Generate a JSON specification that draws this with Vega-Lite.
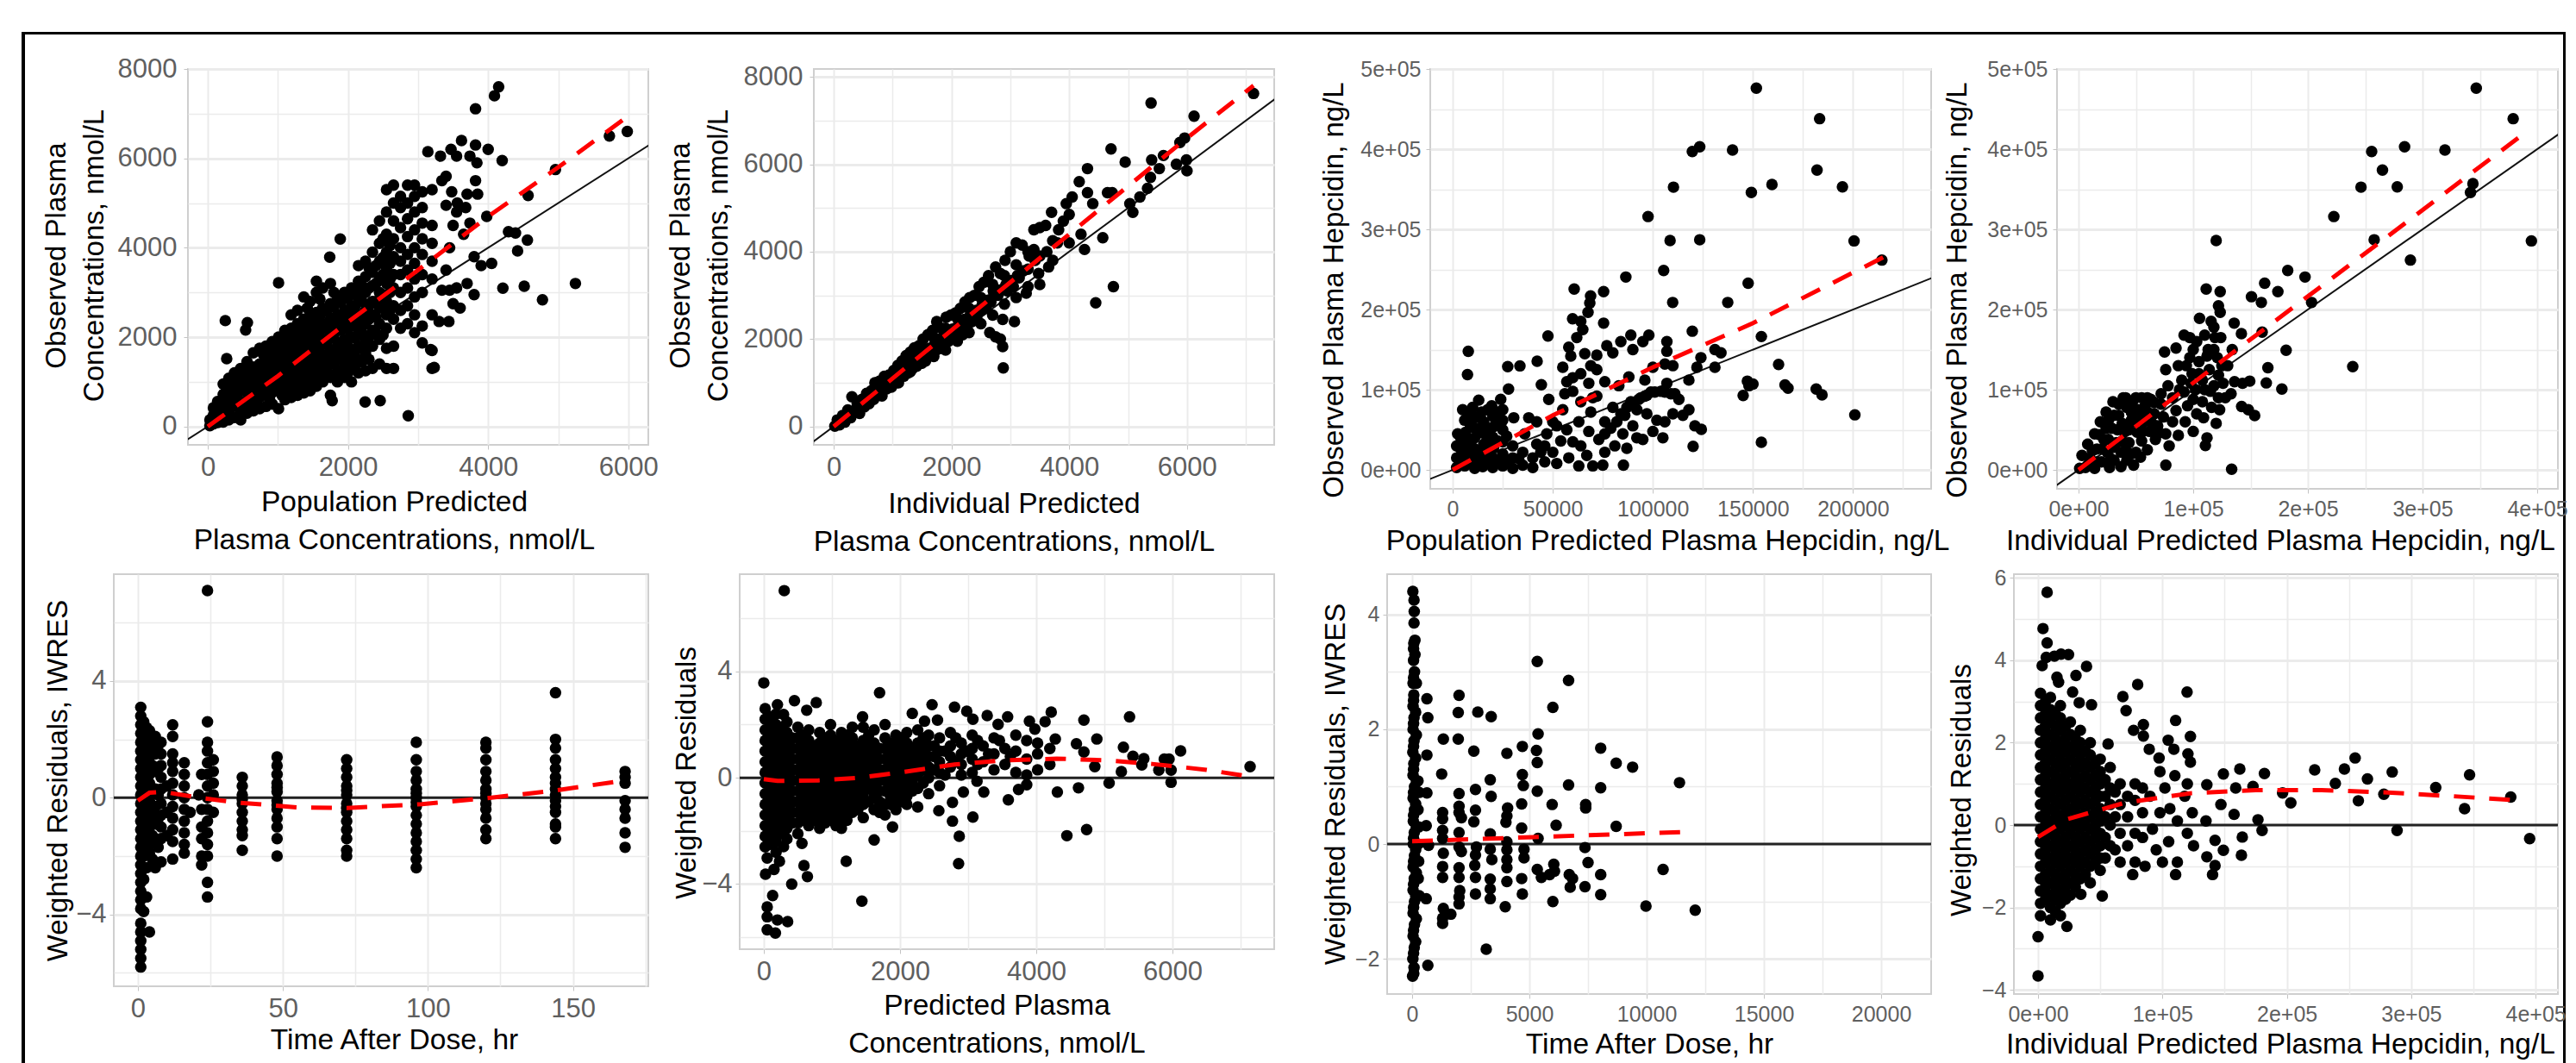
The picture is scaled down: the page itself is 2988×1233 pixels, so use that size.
{"$schema":"https://vega.github.io/schema/vega-lite/v6.json","padding":{"left":25,"top":37,"right":0,"bottom":0},"autosize":{"type":"pad"},"background":"#fff","bounds":"flush","spacing":0,"config":{"view":{"stroke":null},"axis":{"domain":false,"gridColor":"#ebebeb","tickColor":"#c4c4c4","tickSize":5,"labelColor":"#5f5f5f","labelFont":"Liberation Sans","titleFont":"Liberation Sans","titleColor":"#000","titleFontWeight":"normal","labelOverlap":false,"labelBound":false,"labelFlush":false,"titleLineHeight":44,"titleAlign":"center","titleBaseline":"middle"}},
"datasets":{
"p1":[{"x":30,"y":20},{"x":30,"y":150},{"x":80,"y":60},{"x":80,"y":250},{"x":80,"y":420},{"x":140,"y":90},{"x":140,"y":330},{"x":140,"y":560},{"x":220,"y":100},{"x":220,"y":260},{"x":220,"y":480},{"x":220,"y":720},{"x":220,"y":950},{"x":300,"y":150},{"x":300,"y":380},{"x":300,"y":600},{"x":300,"y":830},{"x":300,"y":1080},{"x":380,"y":200},{"x":380,"y":450},{"x":380,"y":700},{"x":380,"y":950},{"x":380,"y":1200},{"x":470,"y":150},{"x":470,"y":320},{"x":470,"y":560},{"x":470,"y":800},{"x":470,"y":1050},{"x":470,"y":1300},{"x":560,"y":300},{"x":560,"y":520},{"x":560,"y":760},{"x":560,"y":1000},{"x":560,"y":1250},{"x":560,"y":1450},{"x":650,"y":350},{"x":650,"y":600},{"x":650,"y":850},{"x":650,"y":1100},{"x":650,"y":1330},{"x":650,"y":1650},{"x":740,"y":400},{"x":740,"y":650},{"x":740,"y":900},{"x":740,"y":1150},{"x":740,"y":1400},{"x":740,"y":1750},{"x":830,"y":450},{"x":830,"y":720},{"x":830,"y":950},{"x":830,"y":1200},{"x":830,"y":1500},{"x":830,"y":1800},{"x":920,"y":500},{"x":920,"y":760},{"x":920,"y":1020},{"x":920,"y":1280},{"x":920,"y":1560},{"x":920,"y":1900},{"x":1010,"y":400},{"x":1010,"y":800},{"x":1010,"y":1050},{"x":1010,"y":1350},{"x":1010,"y":1650},{"x":1010,"y":2000},{"x":1100,"y":600},{"x":1100,"y":880},{"x":1100,"y":1150},{"x":1100,"y":1450},{"x":1100,"y":1750},{"x":1100,"y":2150},{"x":1190,"y":650},{"x":1190,"y":950},{"x":1190,"y":1230},{"x":1190,"y":1550},{"x":1190,"y":1850},{"x":1190,"y":2200},{"x":1190,"y":2500},{"x":1280,"y":700},{"x":1280,"y":1000},{"x":1280,"y":1300},{"x":1280,"y":1600},{"x":1280,"y":1950},{"x":1280,"y":2300},{"x":1280,"y":2600},{"x":1370,"y":750},{"x":1370,"y":1050},{"x":1370,"y":1400},{"x":1370,"y":1700},{"x":1370,"y":2050},{"x":1370,"y":2400},{"x":1370,"y":2900},{"x":1460,"y":800},{"x":1460,"y":1100},{"x":1460,"y":1450},{"x":1460,"y":1800},{"x":1460,"y":2100},{"x":1460,"y":2500},{"x":1460,"y":2800},{"x":1550,"y":900},{"x":1550,"y":1200},{"x":1550,"y":1500},{"x":1550,"y":1850},{"x":1550,"y":2200},{"x":1550,"y":2550},{"x":1550,"y":3000},{"x":1550,"y":3250},{"x":1640,"y":1000},{"x":1640,"y":1300},{"x":1640,"y":1600},{"x":1640,"y":1950},{"x":1640,"y":2300},{"x":1640,"y":2650},{"x":1640,"y":3100},{"x":1750,"y":700},{"x":1750,"y":1100},{"x":1750,"y":1400},{"x":1750,"y":1700},{"x":1750,"y":2050},{"x":1750,"y":2400},{"x":1750,"y":2750},{"x":1750,"y":3200},{"x":1850,"y":1000},{"x":1850,"y":1250},{"x":1850,"y":1550},{"x":1850,"y":1800},{"x":1850,"y":2150},{"x":1850,"y":2500},{"x":1850,"y":2850},{"x":1950,"y":1100},{"x":1950,"y":1400},{"x":1950,"y":1700},{"x":1950,"y":1950},{"x":1950,"y":2300},{"x":1950,"y":2600},{"x":1950,"y":3000},{"x":2050,"y":1000},{"x":2050,"y":1300},{"x":2050,"y":1600},{"x":2050,"y":2000},{"x":2050,"y":2400},{"x":2050,"y":2700},{"x":2050,"y":3100},{"x":2150,"y":1200},{"x":2150,"y":1500},{"x":2150,"y":1800},{"x":2150,"y":2150},{"x":2150,"y":2500},{"x":2150,"y":2850},{"x":2150,"y":3250},{"x":2150,"y":3600},{"x":2250,"y":1250},{"x":2250,"y":1650},{"x":2250,"y":1950},{"x":2250,"y":2300},{"x":2250,"y":2600},{"x":2250,"y":3000},{"x":2250,"y":3350},{"x":2250,"y":3700},{"x":2350,"y":1300},{"x":2350,"y":1800},{"x":2350,"y":2150},{"x":2350,"y":2500},{"x":2350,"y":2800},{"x":2350,"y":3150},{"x":2350,"y":3450},{"x":2350,"y":3900},{"x":2350,"y":4400},{"x":2450,"y":1400},{"x":2450,"y":1950},{"x":2450,"y":2300},{"x":2450,"y":2650},{"x":2450,"y":3000},{"x":2450,"y":3300},{"x":2450,"y":3700},{"x":2450,"y":4100},{"x":2450,"y":4600},{"x":2550,"y":1300},{"x":2550,"y":1750},{"x":2550,"y":2200},{"x":2550,"y":2500},{"x":2550,"y":2800},{"x":2550,"y":3200},{"x":2550,"y":3550},{"x":2550,"y":3900},{"x":2550,"y":4300},{"x":2550,"y":4800},{"x":2550,"y":5300},{"x":2650,"y":1300},{"x":2650,"y":1800},{"x":2650,"y":2400},{"x":2650,"y":2700},{"x":2650,"y":3100},{"x":2650,"y":3400},{"x":2650,"y":3800},{"x":2650,"y":4200},{"x":2650,"y":4600},{"x":2650,"y":5000},{"x":2650,"y":5400},{"x":2750,"y":2200},{"x":2750,"y":2600},{"x":2750,"y":3000},{"x":2750,"y":3400},{"x":2750,"y":3700},{"x":2750,"y":4000},{"x":2750,"y":4450},{"x":2750,"y":4900},{"x":2750,"y":5150},{"x":2850,"y":2300},{"x":2850,"y":2700},{"x":2850,"y":3100},{"x":2850,"y":3500},{"x":2850,"y":3850},{"x":2850,"y":4250},{"x":2850,"y":4650},{"x":2850,"y":5000},{"x":2850,"y":5400},{"x":2950,"y":2100},{"x":2950,"y":2500},{"x":2950,"y":2900},{"x":2950,"y":3300},{"x":2950,"y":3650},{"x":2950,"y":4000},{"x":2950,"y":4400},{"x":2950,"y":4800},{"x":2950,"y":5150},{"x":2950,"y":5400},{"x":3060,"y":1870},{"x":3060,"y":2250},{"x":3060,"y":3000},{"x":3060,"y":3400},{"x":3060,"y":3850},{"x":3060,"y":4200},{"x":3060,"y":4550},{"x":3060,"y":4900},{"x":3060,"y":5250},{"x":3140,"y":6150},{"x":3200,"y":1300},{"x":3200,"y":1700},{"x":3200,"y":2500},{"x":3200,"y":3300},{"x":3200,"y":3700},{"x":3200,"y":4100},{"x":3200,"y":4500},{"x":3200,"y":5300},{"x":3300,"y":2350},{"x":3320,"y":6050},{"x":3340,"y":5500},{"x":3400,"y":5600},{"x":3340,"y":3050},{"x":3400,"y":3500},{"x":3440,"y":2350},{"x":3450,"y":4000},{"x":3480,"y":5250},{"x":3470,"y":6200},{"x":3550,"y":6050},{"x":3620,"y":6400},{"x":3740,"y":6050},{"x":3820,"y":6300},{"x":3840,"y":5900},{"x":4000,"y":6200},{"x":4200,"y":5950},{"x":3560,"y":5000},{"x":3700,"y":5200},{"x":3850,"y":5200},{"x":3820,"y":5500},{"x":3400,"y":4950},{"x":3550,"y":4800},{"x":3680,"y":4900},{"x":3740,"y":4550},{"x":3980,"y":4700},{"x":3500,"y":4500},{"x":3650,"y":4300},{"x":3450,"y":3050},{"x":3800,"y":3800},{"x":3900,"y":3600},{"x":4050,"y":3650},{"x":3700,"y":3200},{"x":3800,"y":2950},{"x":3550,"y":3100},{"x":3600,"y":2650},{"x":3500,"y":2750},{"x":4150,"y":7600},{"x":4090,"y":7400},{"x":3820,"y":7110},{"x":5985,"y":6600},{"x":5730,"y":6500},{"x":4960,"y":5750},{"x":4570,"y":5170},{"x":5245,"y":3200},{"x":4775,"y":2835},{"x":4515,"y":3140},{"x":4210,"y":3095},{"x":2860,"y":240},{"x":2460,"y":580},{"x":2245,"y":550},{"x":1775,"y":580},{"x":1010,"y":3215},{"x":250,"y":2370},{"x":565,"y":2325},{"x":540,"y":2160},{"x":270,"y":1520},{"x":1890,"y":4195},{"x":1740,"y":3790},{"x":4560,"y":4170},{"x":4420,"y":3930},{"x":4390,"y":4330},{"x":4290,"y":4360},{"x":3180,"y":1720},{"x":3230,"y":1320},{"x":430,"y":600},{"x":430,"y":850},{"x":520,"y":430},{"x":520,"y":900},{"x":520,"y":1150},{"x":610,"y":680},{"x":610,"y":1200},{"x":700,"y":500},{"x":700,"y":980},{"x":700,"y":1250},{"x":790,"y":800},{"x":790,"y":1080},{"x":790,"y":1350},{"x":790,"y":1620},{"x":880,"y":620},{"x":880,"y":1130},{"x":880,"y":1420},{"x":880,"y":1700},{"x":970,"y":900},{"x":970,"y":1200},{"x":970,"y":1480},{"x":970,"y":1780},{"x":1060,"y":700},{"x":1060,"y":1000},{"x":1060,"y":1280},{"x":1060,"y":1560},{"x":1060,"y":1880},{"x":1150,"y":780},{"x":1150,"y":1060},{"x":1150,"y":1350},{"x":1150,"y":1650},{"x":1150,"y":2000},{"x":1240,"y":850},{"x":1240,"y":1140},{"x":1240,"y":1440},{"x":1240,"y":1760},{"x":1240,"y":2100},{"x":1330,"y":900},{"x":1330,"y":1180},{"x":1330,"y":1520},{"x":1330,"y":1850},{"x":1330,"y":2200},{"x":1420,"y":950},{"x":1420,"y":1260},{"x":1420,"y":1600},{"x":1420,"y":1950},{"x":1420,"y":2280},{"x":1420,"y":2650},{"x":1510,"y":1050},{"x":1510,"y":1350},{"x":1510,"y":1680},{"x":1510,"y":2030},{"x":1510,"y":2380},{"x":1600,"y":1120},{"x":1600,"y":1450},{"x":1600,"y":1780},{"x":1600,"y":2120},{"x":1600,"y":2480},{"x":1600,"y":2850},{"x":1700,"y":1250},{"x":1700,"y":1550},{"x":1700,"y":1870},{"x":1700,"y":2220},{"x":1700,"y":2580},{"x":1800,"y":1130},{"x":1800,"y":1420},{"x":1800,"y":1680},{"x":1800,"y":1980},{"x":1800,"y":2320},{"x":1800,"y":2680},{"x":1800,"y":3000},{"x":1900,"y":1250},{"x":1900,"y":1560},{"x":1900,"y":1850},{"x":1900,"y":2150},{"x":1900,"y":2450},{"x":1900,"y":2780},{"x":2000,"y":1200},{"x":2000,"y":1480},{"x":2000,"y":1800},{"x":2000,"y":2180},{"x":2000,"y":2550},{"x":2000,"y":2880},{"x":2100,"y":1380},{"x":2100,"y":1680},{"x":2100,"y":1980},{"x":2100,"y":2320},{"x":2100,"y":2680},{"x":2100,"y":3000},{"x":2200,"y":1450},{"x":2200,"y":1780},{"x":2200,"y":2100},{"x":2200,"y":2450},{"x":2200,"y":2800},{"x":2200,"y":3150},{"x":2300,"y":1500},{"x":2300,"y":2000},{"x":2300,"y":2400},{"x":2300,"y":2700},{"x":2300,"y":3100},{"x":2300,"y":3550},{"x":2400,"y":2100},{"x":2400,"y":2450},{"x":2400,"y":2800},{"x":2400,"y":3200},{"x":2400,"y":3600},{"x":2500,"y":2050},{"x":2500,"y":2650},{"x":2500,"y":2950},{"x":2500,"y":3400},{"x":2500,"y":3780},{"x":2500,"y":4200},{"x":2600,"y":2600},{"x":2600,"y":3000},{"x":2600,"y":3300},{"x":2600,"y":3650},{"x":2600,"y":4050}],
"p2":[{"x":20,"y":10},{"x":60,"y":150},{"x":100,"y":40},{"x":150,"y":250},{"x":190,"y":100},{"x":240,"y":380},{"x":290,"y":200},{"x":310,"y":680},{"x":340,"y":330},{"x":400,"y":520},{"x":440,"y":300},{"x":480,"y":620},{"x":520,"y":450},{"x":560,"y":760},{"x":600,"y":520},{"x":640,"y":820},{"x":680,"y":620},{"x":700,"y":1000},{"x":740,"y":720},{"x":780,"y":1040},{"x":820,"y":700},{"x":860,"y":1150},{"x":900,"y":860},{"x":940,"y":1180},{"x":980,"y":900},{"x":1020,"y":1280},{"x":1060,"y":1000},{"x":1090,"y":1400},{"x":1120,"y":1110},{"x":1160,"y":1500},{"x":1190,"y":1150},{"x":1230,"y":1620},{"x":1260,"y":1220},{"x":1300,"y":1700},{"x":1330,"y":1310},{"x":1370,"y":1800},{"x":1410,"y":1380},{"x":1450,"y":1850},{"x":1480,"y":1450},{"x":1520,"y":2000},{"x":1560,"y":1500},{"x":1600,"y":2100},{"x":1640,"y":1620},{"x":1680,"y":2200},{"x":1710,"y":1700},{"x":1750,"y":2400},{"x":1790,"y":1780},{"x":1830,"y":2250},{"x":1870,"y":1850},{"x":1910,"y":2500},{"x":1950,"y":1950},{"x":1990,"y":2550},{"x":2030,"y":2050},{"x":2070,"y":2600},{"x":2110,"y":2180},{"x":2150,"y":2700},{"x":2190,"y":2100},{"x":2230,"y":2850},{"x":2270,"y":2300},{"x":2310,"y":2950},{"x":2350,"y":2400},{"x":2390,"y":3000},{"x":2430,"y":2500},{"x":2470,"y":3200},{"x":2510,"y":2650},{"x":2550,"y":3300},{"x":2590,"y":2700},{"x":2630,"y":3450},{"x":2670,"y":2850},{"x":2710,"y":3100},{"x":2750,"y":3650},{"x":2790,"y":3000},{"x":2830,"y":3500},{"x":2870,"y":2450},{"x":2830,"y":2000},{"x":2870,"y":1830},{"x":2880,"y":1340},{"x":2650,"y":2150},{"x":2750,"y":2050},{"x":3070,"y":2400},{"x":2910,"y":3800},{"x":2950,"y":3100},{"x":3000,"y":4000},{"x":3050,"y":3200},{"x":3100,"y":4200},{"x":3150,"y":3400},{"x":3200,"y":4150},{"x":3270,"y":3050},{"x":3300,"y":3600},{"x":3400,"y":4050},{"x":3480,"y":3500},{"x":3500,"y":3900},{"x":3400,"y":4500},{"x":3500,"y":4550},{"x":3600,"y":4600},{"x":3650,"y":3650},{"x":3720,"y":3800},{"x":3700,"y":4900},{"x":3800,"y":4200},{"x":3900,"y":4700},{"x":4000,"y":4200},{"x":4000,"y":4850},{"x":3950,"y":5100},{"x":4050,"y":5250},{"x":4200,"y":4400},{"x":4170,"y":5600},{"x":4310,"y":5350},{"x":4310,"y":5900},{"x":4400,"y":5100},{"x":4260,"y":4050},{"x":4570,"y":4320},{"x":4450,"y":2830},{"x":4750,"y":3200},{"x":4710,"y":6350},{"x":4650,"y":5350},{"x":4730,"y":5350},{"x":4950,"y":6050},{"x":5030,"y":5100},{"x":5080,"y":4900},{"x":5200,"y":5250},{"x":5330,"y":5450},{"x":5390,"y":7400},{"x":5400,"y":6100},{"x":5530,"y":5900},{"x":5600,"y":6200},{"x":5380,"y":5700},{"x":5820,"y":6000},{"x":5880,"y":6500},{"x":5960,"y":6600},{"x":5990,"y":6100},{"x":6000,"y":5850},{"x":6120,"y":7100},{"x":7130,"y":7620},{"x":120,"y":140},{"x":220,"y":240},{"x":320,"y":350},{"x":420,"y":460},{"x":520,"y":580},{"x":620,"y":680},{"x":720,"y":800},{"x":820,"y":900},{"x":920,"y":1010},{"x":1020,"y":1120},{"x":1120,"y":1240},{"x":1220,"y":1340},{"x":1320,"y":1450},{"x":1420,"y":1570},{"x":1520,"y":1680},{"x":1620,"y":1790},{"x":1720,"y":1900},{"x":1820,"y":2010},{"x":1920,"y":2120},{"x":2020,"y":2230},{"x":2120,"y":2340},{"x":2220,"y":2450},{"x":2320,"y":2550},{"x":2420,"y":2660},{"x":2520,"y":2780},{"x":2620,"y":2890},{"x":2720,"y":3000},{"x":2820,"y":3120},{"x":2920,"y":3230},{"x":3020,"y":3340},{"x":3120,"y":3450},{"x":3220,"y":3560},{"x":3320,"y":3900},{"x":3420,"y":3800},{"x":3620,"y":4000},{"x":3820,"y":4500},{"x":700,"y":870},{"x":900,"y":1100},{"x":1100,"y":1300},{"x":1300,"y":1560},{"x":1500,"y":1800},{"x":1700,"y":2030},{"x":1900,"y":2250},{"x":2100,"y":2480},{"x":2300,"y":2700},{"x":2500,"y":2950},{"x":2700,"y":3250},{"x":2900,"y":3450},{"x":3100,"y":3700},{"x":3300,"y":4000},{"x":900,"y":920},{"x":1100,"y":1000},{"x":1300,"y":1250},{"x":1500,"y":1450},{"x":1700,"y":1600},{"x":1900,"y":1750},{"x":2100,"y":1950},{"x":2300,"y":2150},{"x":2500,"y":2350},{"x":2700,"y":2550},{"x":2900,"y":2800},{"x":3100,"y":2950},{"x":3300,"y":3200},{"x":3500,"y":3250},{"x":3720,"y":4250}],
"p3":[{"x":2000,"y":3000},{"x":2000,"y":15000},{"x":2000,"y":30000},{"x":2500,"y":45000},{"x":6000,"y":5000},{"x":6000,"y":20000},{"x":6000,"y":33000},{"x":6500,"y":47000},{"x":6000,"y":62000},{"x":5000,"y":75000},{"x":11000,"y":2000},{"x":11000,"y":14000},{"x":10500,"y":27000},{"x":11000,"y":40000},{"x":10500,"y":53000},{"x":11000,"y":66000},{"x":10000,"y":78000},{"x":15000,"y":4000},{"x":15000,"y":18000},{"x":15500,"y":32000},{"x":15000,"y":46000},{"x":15500,"y":60000},{"x":14500,"y":72000},{"x":13000,"y":87000},{"x":20000,"y":3000},{"x":20000,"y":15000},{"x":20500,"y":28000},{"x":20000,"y":41000},{"x":20500,"y":54000},{"x":20000,"y":67000},{"x":19500,"y":80000},{"x":24000,"y":88000},{"x":25000,"y":5000},{"x":25000,"y":20000},{"x":25000,"y":35000},{"x":25000,"y":50000},{"x":25000,"y":62000},{"x":25000,"y":75000},{"x":30000,"y":2000},{"x":30000,"y":15000},{"x":30000,"y":30000},{"x":30500,"y":65000},{"x":35000,"y":6000},{"x":35000,"y":22000},{"x":38000,"y":65000},{"x":40000,"y":3000},{"x":40000,"y":15000},{"x":42000,"y":32000},{"x":42000,"y":60000},{"x":46000,"y":10000},{"x":47000,"y":45000},{"x":48000,"y":88000},{"x":50000,"y":22000},{"x":52000,"y":55000},{"x":52000,"y":8000},{"x":54000,"y":36000},{"x":55000,"y":75000},{"x":55000,"y":128000},{"x":57000,"y":110000},{"x":58000,"y":15000},{"x":60000,"y":98000},{"x":59000,"y":142000},{"x":58000,"y":153000},{"x":62000,"y":165000},{"x":63000,"y":5000},{"x":64000,"y":30000},{"x":63000,"y":60000},{"x":64000,"y":85000},{"x":64000,"y":120000},{"x":65000,"y":175000},{"x":67000,"y":18000},{"x":68000,"y":48000},{"x":69000,"y":72000},{"x":68000,"y":108000},{"x":69000,"y":130000},{"x":73000,"y":38000},{"x":72000,"y":92000},{"x":72000,"y":125000},{"x":76000,"y":22000},{"x":76000,"y":60000},{"x":76000,"y":110000},{"x":77000,"y":155000},{"x":80000,"y":146000},{"x":81000,"y":30000},{"x":80000,"y":78000},{"x":83000,"y":105000},{"x":84000,"y":160000},{"x":85000,"y":45000},{"x":86000,"y":68000},{"x":87000,"y":27000},{"x":88000,"y":116000},{"x":89000,"y":85000},{"x":89000,"y":168000},{"x":90000,"y":150000},{"x":92000,"y":40000},{"x":92000,"y":75000},{"x":94000,"y":90000},{"x":95000,"y":160000},{"x":96000,"y":112000},{"x":97000,"y":93000},{"x":98000,"y":168000},{"x":99000,"y":97000},{"x":100000,"y":48000},{"x":100000,"y":128000},{"x":102000,"y":62000},{"x":104000,"y":98000},{"x":106000,"y":60000},{"x":106000,"y":132000},{"x":107000,"y":108000},{"x":107000,"y":160000},{"x":107000,"y":148000},{"x":110000,"y":70000},{"x":110000,"y":130000},{"x":111000,"y":95000},{"x":113000,"y":88000},{"x":115000,"y":68000},{"x":118000,"y":112000},{"x":118000,"y":75000},{"x":121000,"y":55000},{"x":122000,"y":128000},{"x":124000,"y":140000},{"x":131000,"y":128000},{"x":131000,"y":150000},{"x":134000,"y":146000},{"x":148000,"y":105000},{"x":150000,"y":107000},{"x":151700,"y":476000},{"x":183300,"y":438000},{"x":123400,"y":403000},{"x":119700,"y":397000},{"x":139800,"y":399000},{"x":182000,"y":374000},{"x":110300,"y":352600},{"x":159500,"y":356000},{"x":149200,"y":346000},{"x":194700,"y":353000},{"x":97600,"y":316000},{"x":108600,"y":286000},{"x":123400,"y":287000},{"x":200500,"y":285600},{"x":214400,"y":261700},{"x":105400,"y":248600},{"x":86500,"y":240500},{"x":147600,"y":232800},{"x":60700,"y":225500},{"x":75400,"y":222400},{"x":68900,"y":217000},{"x":68500,"y":208000},{"x":109900,"y":208800},{"x":137400,"y":208800},{"x":67600,"y":196600},{"x":59900,"y":188500},{"x":64000,"y":185300},{"x":75400,"y":183000},{"x":47600,"y":167000},{"x":154200,"y":166300},{"x":119700,"y":173000},{"x":7800,"y":147800},{"x":7400,"y":118900},{"x":27500,"y":128800},{"x":33600,"y":129700},{"x":42200,"y":135600},{"x":27900,"y":100800},{"x":44300,"y":106200},{"x":162800,"y":131500},{"x":147200,"y":110700},{"x":166000,"y":106000},{"x":167500,"y":102000},{"x":181600,"y":100800},{"x":184500,"y":93600},{"x":200900,"y":68700},{"x":145100,"y":92700},{"x":154200,"y":34400},{"x":120100,"y":29400},{"x":124200,"y":50600},{"x":85300,"y":5900},{"x":75000,"y":5900},{"x":4000,"y":12000},{"x":4000,"y":26000},{"x":4000,"y":40000},{"x":8500,"y":10000},{"x":8500,"y":24000},{"x":8500,"y":38000},{"x":8500,"y":58000},{"x":8500,"y":70000},{"x":13000,"y":10000},{"x":13000,"y":24000},{"x":13000,"y":52000},{"x":13000,"y":66000},{"x":17500,"y":10000},{"x":17500,"y":24000},{"x":17500,"y":38000},{"x":17500,"y":52000},{"x":17500,"y":75000},{"x":22500,"y":10000},{"x":22500,"y":36000},{"x":22500,"y":58000},{"x":22500,"y":72000},{"x":27000,"y":42000},{"x":27000,"y":12000},{"x":33000,"y":14000},{"x":44000,"y":22000},{"x":76000,"y":45000},{"x":79000,"y":52000},{"x":82000,"y":60000},{"x":84000,"y":70000},{"x":87000,"y":78000},{"x":90000,"y":84000},{"x":93000,"y":88000},{"x":96000,"y":92000},{"x":101000,"y":97000},{"x":106000,"y":97000},{"x":109000,"y":95000},{"x":90000,"y":55000},{"x":95000,"y":38000},{"x":97000,"y":70000},{"x":105000,"y":40000},{"x":70000,"y":90000},{"x":66000,"y":145000},{"x":72000,"y":143000},{"x":60000,"y":115000},{"x":56000,"y":95000},{"x":50000,"y":60000},{"x":46000,"y":30000},{"x":57000,"y":50000},{"x":60000,"y":35000},{"x":36000,"y":45000},{"x":70000,"y":5000}],
"p4":[{"x":1000,"y":2000},{"x":3000,"y":18000},{"x":6000,"y":3000},{"x":8000,"y":32000},{"x":10000,"y":14000},{"x":14000,"y":45000},{"x":14000,"y":2000},{"x":16000,"y":26000},{"x":19000,"y":60000},{"x":20000,"y":10000},{"x":22000,"y":38000},{"x":24000,"y":72000},{"x":25000,"y":22000},{"x":27000,"y":3000},{"x":29000,"y":52000},{"x":30000,"y":85000},{"x":31000,"y":12000},{"x":33000,"y":34000},{"x":35000,"y":68000},{"x":37000,"y":4000},{"x":37000,"y":22000},{"x":39000,"y":90000},{"x":40000,"y":48000},{"x":42000,"y":78000},{"x":42000,"y":12000},{"x":44000,"y":34000},{"x":46000,"y":62000},{"x":47000,"y":85000},{"x":48000,"y":6000},{"x":50000,"y":22000},{"x":51000,"y":47000},{"x":52000,"y":75000},{"x":55000,"y":90000},{"x":55000,"y":36000},{"x":57000,"y":60000},{"x":58000,"y":80000},{"x":60000,"y":25000},{"x":62000,"y":48000},{"x":63000,"y":88000},{"x":66000,"y":70000},{"x":67000,"y":38000},{"x":69000,"y":55000},{"x":72000,"y":82000},{"x":74000,"y":66000},{"x":76000,"y":45000},{"x":75000,"y":147000},{"x":76000,"y":125000},{"x":78000,"y":105000},{"x":79000,"y":30000},{"x":82000,"y":60000},{"x":82000,"y":90000},{"x":85000,"y":152000},{"x":85000,"y":74000},{"x":87000,"y":130000},{"x":87000,"y":43000},{"x":90000,"y":112000},{"x":92000,"y":97000},{"x":92000,"y":168000},{"x":93000,"y":60000},{"x":95000,"y":80000},{"x":97000,"y":165000},{"x":97000,"y":140000},{"x":99000,"y":120000},{"x":100000,"y":48000},{"x":102000,"y":100000},{"x":103000,"y":70000},{"x":103000,"y":160000},{"x":105000,"y":135000},{"x":108000,"y":112000},{"x":108000,"y":85000},{"x":109000,"y":65000},{"x":110000,"y":168000},{"x":112000,"y":40000},{"x":113000,"y":150000},{"x":114000,"y":125000},{"x":115000,"y":98000},{"x":116000,"y":78000},{"x":118000,"y":178000},{"x":119000,"y":165000},{"x":120000,"y":58000},{"x":121000,"y":140000},{"x":122000,"y":118000},{"x":122000,"y":90000},{"x":123000,"y":75000},{"x":124000,"y":165000},{"x":126000,"y":108000},{"x":130000,"y":130000},{"x":133000,"y":95000},{"x":134000,"y":150000},{"x":136000,"y":110000},{"x":142000,"y":170000},{"x":143000,"y":108000},{"x":148000,"y":75000},{"x":346800,"y":476000},{"x":379000,"y":438000},{"x":284300,"y":403000},{"x":255600,"y":397000},{"x":319500,"y":399000},{"x":265000,"y":374000},{"x":246300,"y":352600},{"x":277900,"y":353000},{"x":343900,"y":357000},{"x":341800,"y":346000},{"x":222600,"y":316000},{"x":120000,"y":286000},{"x":257800,"y":287000},{"x":394900,"y":285600},{"x":289400,"y":261700},{"x":182400,"y":248600},{"x":197500,"y":240500},{"x":111300,"y":225500},{"x":123500,"y":222400},{"x":162300,"y":232800},{"x":173800,"y":222400},{"x":150800,"y":216000},{"x":159400,"y":208800},{"x":203200,"y":208800},{"x":122000,"y":204700},{"x":123500,"y":196600},{"x":105500,"y":189000},{"x":115600,"y":185300},{"x":135700,"y":183000},{"x":160100,"y":171800},{"x":181000,"y":149200},{"x":239100,"y":128800},{"x":165100,"y":127500},{"x":163700,"y":108500},{"x":177300,"y":100800},{"x":133500,"y":900},{"x":76100,"y":5900},{"x":110600,"y":30300},{"x":153600,"y":67800},{"x":142200,"y":79100},{"x":149300,"y":110700},{"x":8000,"y":6000},{"x":12000,"y":24000},{"x":16000,"y":10000},{"x":18000,"y":44000},{"x":21000,"y":26000},{"x":24000,"y":52000},{"x":26000,"y":38000},{"x":26000,"y":62000},{"x":28000,"y":14000},{"x":30000,"y":28000},{"x":31000,"y":68000},{"x":34000,"y":50000},{"x":35000,"y":82000},{"x":38000,"y":36000},{"x":38000,"y":58000},{"x":41000,"y":24000},{"x":41000,"y":90000},{"x":44000,"y":50000},{"x":46000,"y":72000},{"x":46000,"y":20000},{"x":50000,"y":90000},{"x":50000,"y":60000},{"x":54000,"y":16000},{"x":54000,"y":68000},{"x":56000,"y":48000},{"x":60000,"y":72000},{"x":60000,"y":90000},{"x":64000,"y":58000},{"x":66000,"y":84000},{"x":70000,"y":46000},{"x":72000,"y":95000},{"x":88000,"y":100000},{"x":94000,"y":130000},{"x":98000,"y":108000},{"x":100000,"y":88000},{"x":100000,"y":150000},{"x":105000,"y":120000},{"x":110000,"y":100000},{"x":112000,"y":142000},{"x":118000,"y":105000},{"x":118000,"y":150000},{"x":125000,"y":130000},{"x":128000,"y":90000}],
"p5":[{"x":1,"y":3.1},{"x":1,"y":2.8},{"x":1,"y":2.5},{"x":1,"y":2.2},{"x":1,"y":1.9},{"x":1,"y":1.6},{"x":1,"y":1.3},{"x":1,"y":1},{"x":1,"y":0.7},{"x":1,"y":0.4},{"x":1,"y":0.1},{"x":1,"y":-0.2},{"x":1,"y":-0.5},{"x":1,"y":-0.8},{"x":1,"y":-1.1},{"x":1,"y":-1.4},{"x":1,"y":-1.7},{"x":1,"y":-2},{"x":1,"y":-2.3},{"x":1,"y":-2.6},{"x":1,"y":-2.9},{"x":1,"y":-3.2},{"x":1,"y":-3.5},{"x":1,"y":-3.8},{"x":1,"y":-4.3},{"x":1,"y":-4.6},{"x":1,"y":-4.9},{"x":1,"y":-5.2},{"x":1,"y":-5.5},{"x":1,"y":-5.8},{"x":2,"y":-3.9},{"x":4,"y":-4.6},{"x":2,"y":2.6},{"x":3,"y":-3.4},{"x":4,"y":2.3},{"x":4,"y":2},{"x":4,"y":1.7},{"x":4,"y":1.4},{"x":4,"y":1.1},{"x":4,"y":0.8},{"x":4,"y":0.5},{"x":4,"y":0.2},{"x":4,"y":-0.1},{"x":4,"y":-0.4},{"x":4,"y":-0.7},{"x":4,"y":-1},{"x":4,"y":-1.3},{"x":4,"y":-1.6},{"x":4,"y":-1.9},{"x":6,"y":2.1},{"x":6,"y":1.5},{"x":6,"y":0.9},{"x":6,"y":0.3},{"x":6,"y":-0.3},{"x":6,"y":-0.9},{"x":6,"y":-1.5},{"x":6,"y":-2.4},{"x":8,"y":1.9},{"x":8,"y":1.5},{"x":8,"y":1.1},{"x":8,"y":0.7},{"x":8,"y":0.3},{"x":8,"y":-0.2},{"x":8,"y":-0.6},{"x":8,"y":-1},{"x":8,"y":-1.4},{"x":8,"y":-2.2},{"x":12,"y":2.5},{"x":12,"y":2.1},{"x":12,"y":1.5},{"x":12,"y":1.2},{"x":12,"y":0.9},{"x":12,"y":0.5},{"x":12,"y":0.1},{"x":12,"y":-0.3},{"x":12,"y":-0.7},{"x":12,"y":-1.1},{"x":12,"y":-1.5},{"x":12,"y":-2.1},{"x":16,"y":1.2},{"x":16,"y":0.8},{"x":16,"y":0.4},{"x":16,"y":0},{"x":16,"y":-0.4},{"x":16,"y":-0.8},{"x":16,"y":-1.2},{"x":16,"y":-1.6},{"x":16,"y":-1.9},{"x":18,"y":-0.5},{"x":21,"y":0.1},{"x":22,"y":-2.3},{"x":22,"y":-2},{"x":22,"y":0.8},{"x":22,"y":-0.4},{"x":22,"y":-1},{"x":22,"y":-1.4},{"x":24,"y":7.1},{"x":24,"y":2.6},{"x":24,"y":1.9},{"x":24,"y":1.6},{"x":24,"y":1.2},{"x":24,"y":0.8},{"x":24,"y":0.4},{"x":24,"y":0},{"x":24,"y":-0.4},{"x":24,"y":-0.8},{"x":24,"y":-1.2},{"x":24,"y":-1.6},{"x":24,"y":-2},{"x":24,"y":-2.9},{"x":24,"y":-3.4},{"x":26,"y":1.3},{"x":26,"y":0.9},{"x":26,"y":0.5},{"x":26,"y":0.1},{"x":26,"y":-0.5},{"x":36,"y":0.7},{"x":36,"y":0.4},{"x":36,"y":0.1},{"x":36,"y":-0.2},{"x":36,"y":-0.5},{"x":36,"y":-0.8},{"x":36,"y":-1.1},{"x":36,"y":-1.3},{"x":36,"y":-1.8},{"x":48,"y":1.4},{"x":48,"y":1.1},{"x":48,"y":0.8},{"x":48,"y":0.5},{"x":48,"y":0.2},{"x":48,"y":-0.1},{"x":48,"y":-0.4},{"x":48,"y":-0.7},{"x":48,"y":-1},{"x":48,"y":-1.4},{"x":48,"y":-2},{"x":72,"y":1.3},{"x":72,"y":1},{"x":72,"y":0.7},{"x":72,"y":0.4},{"x":72,"y":0.1},{"x":72,"y":-0.2},{"x":72,"y":-0.5},{"x":72,"y":-0.8},{"x":72,"y":-1.1},{"x":72,"y":-1.4},{"x":72,"y":-1.8},{"x":72,"y":-2},{"x":96,"y":1.9},{"x":96,"y":1.3},{"x":96,"y":0.9},{"x":96,"y":0.6},{"x":96,"y":0.3},{"x":96,"y":0},{"x":96,"y":-0.3},{"x":96,"y":-0.6},{"x":96,"y":-0.9},{"x":96,"y":-1.2},{"x":96,"y":-1.5},{"x":96,"y":-1.8},{"x":96,"y":-2.1},{"x":96,"y":-2.4},{"x":120,"y":1.9},{"x":120,"y":1.7},{"x":120,"y":1.3},{"x":120,"y":0.9},{"x":120,"y":0.6},{"x":120,"y":0.3},{"x":120,"y":0},{"x":120,"y":-0.4},{"x":120,"y":-0.7},{"x":120,"y":-1.1},{"x":120,"y":-1.4},{"x":144,"y":3.6},{"x":144,"y":2},{"x":144,"y":1.7},{"x":144,"y":1.3},{"x":144,"y":1},{"x":144,"y":0.7},{"x":144,"y":0.3},{"x":144,"y":-0.1},{"x":144,"y":-0.5},{"x":144,"y":-0.9},{"x":144,"y":-1},{"x":144,"y":-1.4},{"x":168,"y":0.9},{"x":168,"y":0.7},{"x":168,"y":0.5},{"x":168,"y":-0.1},{"x":168,"y":-0.4},{"x":168,"y":-0.7},{"x":168,"y":-1.2},{"x":168,"y":-1.7},{"x":2,"y":2},{"x":2,"y":1.2},{"x":2,"y":0.4},{"x":2,"y":-0.4},{"x":2,"y":-1.2},{"x":2,"y":-2},{"x":2,"y":-2.8},{"x":3,"y":2.4},{"x":3,"y":1.6},{"x":3,"y":0.8},{"x":3,"y":0},{"x":3,"y":-0.8},{"x":3,"y":-1.6},{"x":3,"y":-2.4},{"x":5,"y":1.9},{"x":5,"y":1.1},{"x":5,"y":0.3},{"x":5,"y":-0.5},{"x":5,"y":-1.3},{"x":5,"y":-2.1},{"x":7,"y":1.8},{"x":7,"y":1},{"x":7,"y":0.1},{"x":7,"y":-0.7},{"x":7,"y":-1.7},{"x":10,"y":0.4},{"x":10,"y":-0.5},{"x":10,"y":-1.3},{"x":96,"y":-0.15},{"x":96,"y":0.15},{"x":72,"y":0.25},{"x":72,"y":-0.35},{"x":120,"y":0.15},{"x":120,"y":-0.2},{"x":144,"y":0.5},{"x":144,"y":0.1},{"x":144,"y":-0.3},{"x":48,"y":0.35},{"x":48,"y":-0.25},{"x":36,"y":-0.05}],
"p6":[{"x":20,"y":2.6},{"x":20,"y":2.2},{"x":20,"y":1.8},{"x":20,"y":1.4},{"x":20,"y":1},{"x":20,"y":0.6},{"x":20,"y":0.2},{"x":20,"y":-0.2},{"x":20,"y":-0.6},{"x":20,"y":-1},{"x":20,"y":-1.4},{"x":20,"y":-1.8},{"x":20,"y":-2.2},{"x":20,"y":-2.6},{"x":180,"y":2.4},{"x":180,"y":2},{"x":180,"y":1.6},{"x":180,"y":1.2},{"x":180,"y":0.8},{"x":180,"y":0.4},{"x":180,"y":0},{"x":180,"y":-0.4},{"x":180,"y":-0.8},{"x":180,"y":-1.2},{"x":180,"y":-1.6},{"x":180,"y":-2},{"x":180,"y":-2.4},{"x":180,"y":-2.8},{"x":340,"y":2.1},{"x":340,"y":1.7},{"x":340,"y":1.3},{"x":340,"y":0.9},{"x":340,"y":0.5},{"x":340,"y":0.1},{"x":340,"y":-0.3},{"x":340,"y":-0.7},{"x":340,"y":-1.1},{"x":340,"y":-1.5},{"x":340,"y":-1.9},{"x":340,"y":-2.3},{"x":500,"y":1.9},{"x":500,"y":1.5},{"x":500,"y":1.1},{"x":500,"y":0.7},{"x":500,"y":0.3},{"x":500,"y":-0.1},{"x":500,"y":-0.5},{"x":500,"y":-0.9},{"x":500,"y":-1.3},{"x":500,"y":-1.7},{"x":500,"y":-2.1},{"x":660,"y":1.8},{"x":660,"y":1.4},{"x":660,"y":1},{"x":660,"y":0.6},{"x":660,"y":0.2},{"x":660,"y":-0.2},{"x":660,"y":-0.6},{"x":660,"y":-1},{"x":660,"y":-1.4},{"x":660,"y":-1.8},{"x":820,"y":1.7},{"x":820,"y":1.3},{"x":820,"y":0.9},{"x":820,"y":0.5},{"x":820,"y":0.1},{"x":820,"y":-0.3},{"x":820,"y":-0.7},{"x":820,"y":-1.1},{"x":820,"y":-1.5},{"x":820,"y":-1.9},{"x":980,"y":2},{"x":980,"y":1.6},{"x":980,"y":1.2},{"x":980,"y":0.8},{"x":980,"y":0.4},{"x":980,"y":0},{"x":980,"y":-0.4},{"x":980,"y":-0.8},{"x":980,"y":-1.2},{"x":980,"y":-1.6},{"x":1140,"y":1.7},{"x":1140,"y":1.3},{"x":1140,"y":0.9},{"x":1140,"y":0.5},{"x":1140,"y":0.1},{"x":1140,"y":-0.3},{"x":1140,"y":-0.7},{"x":1140,"y":-1.1},{"x":1140,"y":-1.5},{"x":1140,"y":-1.9},{"x":1300,"y":1.9},{"x":1300,"y":1.5},{"x":1300,"y":1.1},{"x":1300,"y":0.7},{"x":1300,"y":0.3},{"x":1300,"y":-0.1},{"x":1300,"y":-0.5},{"x":1300,"y":-0.9},{"x":1300,"y":-1.3},{"x":1460,"y":1.9},{"x":1460,"y":1.4},{"x":1460,"y":1},{"x":1460,"y":0.6},{"x":1460,"y":0.2},{"x":1460,"y":-0.2},{"x":1460,"y":-0.6},{"x":1460,"y":-1},{"x":1460,"y":-1.5},{"x":1620,"y":1.8},{"x":1620,"y":1.3},{"x":1620,"y":0.9},{"x":1620,"y":0.5},{"x":1620,"y":0.1},{"x":1620,"y":-0.3},{"x":1620,"y":-0.7},{"x":1620,"y":-1.2},{"x":1780,"y":2},{"x":1780,"y":1.5},{"x":1780,"y":1.1},{"x":1780,"y":0.7},{"x":1780,"y":0.3},{"x":1780,"y":-0.1},{"x":1780,"y":-0.5},{"x":1780,"y":-1},{"x":1780,"y":-1.4},{"x":1940,"y":1.6},{"x":1940,"y":1.2},{"x":1940,"y":0.8},{"x":1940,"y":0.4},{"x":1940,"y":0},{"x":1940,"y":-0.4},{"x":1940,"y":-0.8},{"x":1940,"y":-1.2},{"x":2100,"y":1.7},{"x":2100,"y":1.3},{"x":2100,"y":0.9},{"x":2100,"y":0.5},{"x":2100,"y":0.1},{"x":2100,"y":-0.3},{"x":2100,"y":-0.7},{"x":2100,"y":-1},{"x":2260,"y":1.8},{"x":2260,"y":1.3},{"x":2260,"y":0.9},{"x":2260,"y":0.5},{"x":2260,"y":0.1},{"x":2260,"y":-0.4},{"x":2260,"y":-1.1},{"x":2420,"y":1.6},{"x":2420,"y":1.2},{"x":2420,"y":0.8},{"x":2420,"y":0.4},{"x":2420,"y":0},{"x":2420,"y":-0.6},{"x":2580,"y":1.5},{"x":2580,"y":1},{"x":2580,"y":0.6},{"x":2580,"y":0.2},{"x":2580,"y":-0.3},{"x":2740,"y":1.7},{"x":2740,"y":1.2},{"x":2740,"y":0.8},{"x":2740,"y":0.4},{"x":2900,"y":1.3},{"x":2900,"y":0.9},{"x":2900,"y":0.5},{"x":2900,"y":0.1},{"x":3060,"y":1.6},{"x":3060,"y":1.1},{"x":3060,"y":0.7},{"x":3060,"y":0.2},{"x":3220,"y":1.2},{"x":3220,"y":0.6},{"x":3380,"y":1.5},{"x":3380,"y":0.9},{"x":3380,"y":0.3},{"x":3540,"y":1.1},{"x":3540,"y":0.5},{"x":3700,"y":1.6},{"x":3700,"y":1},{"x":3700,"y":0.2},{"x":3860,"y":1.4},{"x":3860,"y":0.7},{"x":3860,"y":0.1},{"x":4020,"y":1.3},{"x":4020,"y":0.9},{"x":4020,"y":0.3},{"x":4200,"y":1.1},{"x":4200,"y":0.5},{"x":300,"y":7.04},{"x":0,"y":3.57},{"x":1700,"y":3.2},{"x":450,"y":2.9},{"x":770,"y":2.83},{"x":200,"y":2.75},{"x":630,"y":2.54},{"x":290,"y":2.38},{"x":2470,"y":2.75},{"x":2800,"y":2.66},{"x":2980,"y":2.5},{"x":3280,"y":2.34},{"x":3580,"y":2.29},{"x":4220,"y":2.47},{"x":5370,"y":2.29},{"x":4700,"y":2.17},{"x":2180,"y":2.42},{"x":1450,"y":2.29},{"x":2360,"y":2.13},{"x":2550,"y":2.17},{"x":3070,"y":2.2},{"x":3900,"y":2.13},{"x":4130,"y":2.11},{"x":3440,"y":2.01},{"x":3980,"y":1.83},{"x":4890,"y":1.46},{"x":5280,"y":1.15},{"x":4280,"y":1.46},{"x":4590,"y":1.28},{"x":6120,"y":1.01},{"x":4700,"y":0.97},{"x":5420,"y":0.81},{"x":5580,"y":0.72},{"x":5880,"y":0.7},{"x":5950,"y":0.7},{"x":5550,"y":0.48},{"x":5800,"y":0.29},{"x":5980,"y":0.29},{"x":7140,"y":0.42},{"x":4860,"y":0.42},{"x":5250,"y":0.23},{"x":5070,"y":-0.2},{"x":5980,"y":-0.17},{"x":4620,"y":-0.38},{"x":4310,"y":-0.54},{"x":3590,"y":-0.83},{"x":3860,"y":-0.26},{"x":3740,"y":-0.44},{"x":3130,"y":-0.13},{"x":3230,"y":-0.54},{"x":2930,"y":-0.54},{"x":2770,"y":-0.93},{"x":2570,"y":-1.24},{"x":3070,"y":-1.48},{"x":2770,"y":-1.63},{"x":2870,"y":-2.2},{"x":2860,"y":-3.23},{"x":4740,"y":-1.95},{"x":4450,"y":-2.18},{"x":1620,"y":-2.34},{"x":1890,"y":-1.85},{"x":1210,"y":-3.14},{"x":1440,"y":-4.64},{"x":590,"y":-3.3},{"x":640,"y":-3.72},{"x":560,"y":-2.47},{"x":410,"y":-4},{"x":350,"y":-5.41},{"x":200,"y":-5.35},{"x":130,"y":-4.43},{"x":50,"y":-5.72},{"x":170,"y":-5.84},{"x":50,"y":-4.86},{"x":50,"y":-5.23},{"x":150,"y":-3.45},{"x":25,"y":-3.63},{"x":230,"y":-3.14},{"x":290,"y":-2.59},{"x":50,"y":-3.02},{"x":100,"y":2.3},{"x":100,"y":1.5},{"x":100,"y":0.7},{"x":100,"y":-0.1},{"x":100,"y":-0.9},{"x":100,"y":-1.7},{"x":100,"y":-2.5},{"x":260,"y":1.9},{"x":260,"y":1.1},{"x":260,"y":0.3},{"x":260,"y":-0.5},{"x":260,"y":-1.3},{"x":260,"y":-2.1},{"x":420,"y":1.5},{"x":420,"y":0.7},{"x":420,"y":-0.1},{"x":420,"y":-0.9},{"x":420,"y":-1.7},{"x":580,"y":1.6},{"x":580,"y":0.8},{"x":580,"y":0},{"x":580,"y":-0.8},{"x":580,"y":-1.6},{"x":740,"y":1.2},{"x":740,"y":0.4},{"x":740,"y":-0.4},{"x":740,"y":-1.2},{"x":900,"y":1.5},{"x":900,"y":0.7},{"x":900,"y":-0.1},{"x":900,"y":-0.9},{"x":900,"y":-1.7},{"x":1060,"y":1.4},{"x":1060,"y":0.6},{"x":1060,"y":-0.2},{"x":1060,"y":-1},{"x":1060,"y":-1.8},{"x":1220,"y":1.6},{"x":1220,"y":0.8},{"x":1220,"y":0},{"x":1220,"y":-0.8},{"x":1220,"y":-1.6},{"x":1380,"y":1.2},{"x":1380,"y":0.4},{"x":1380,"y":-0.4},{"x":1380,"y":-1.2},{"x":1540,"y":1.6},{"x":1540,"y":0.8},{"x":1540,"y":0},{"x":1540,"y":-0.9},{"x":1700,"y":1.1},{"x":1700,"y":0.3},{"x":1700,"y":-0.5},{"x":1700,"y":-1.3},{"x":1860,"y":1.3},{"x":1860,"y":0.5},{"x":1860,"y":-0.3},{"x":1860,"y":-1},{"x":2020,"y":1.5},{"x":2020,"y":0.7},{"x":2020,"y":-0.1},{"x":2020,"y":-0.9},{"x":2180,"y":1.1},{"x":2180,"y":0.3},{"x":2180,"y":-0.5},{"x":2340,"y":1.5},{"x":2340,"y":0.7},{"x":2340,"y":-0.2},{"x":2500,"y":1.2},{"x":2500,"y":0.3},{"x":2660,"y":1},{"x":2660,"y":0.1},{"x":2820,"y":1.5},{"x":2820,"y":0.6},{"x":2980,"y":1},{"x":3140,"y":1.4},{"x":3140,"y":0.5},{"x":3300,"y":0.9},{"x":3460,"y":1.4},{"x":3620,"y":0.8},{"x":100,"y":1.9},{"x":100,"y":1.1},{"x":100,"y":0.3},{"x":100,"y":-0.5},{"x":100,"y":-1.3},{"x":100,"y":-2.1},{"x":260,"y":1.5},{"x":260,"y":0.7},{"x":260,"y":-0.1},{"x":260,"y":-0.9},{"x":260,"y":-1.7},{"x":420,"y":1.1},{"x":420,"y":0.3},{"x":420,"y":-0.5},{"x":420,"y":-1.3},{"x":580,"y":1.2},{"x":580,"y":0.4},{"x":580,"y":-0.4},{"x":580,"y":-1.2},{"x":740,"y":0.8},{"x":740,"y":0},{"x":740,"y":-0.8},{"x":740,"y":-1.6},{"x":900,"y":1.1},{"x":900,"y":0.3},{"x":900,"y":-0.5},{"x":900,"y":-1.3},{"x":1060,"y":1},{"x":1060,"y":0.2},{"x":1060,"y":-0.6},{"x":1060,"y":-1.4},{"x":1220,"y":1.2},{"x":1220,"y":0.4},{"x":1220,"y":-0.4},{"x":1220,"y":-1.2},{"x":1380,"y":0.8},{"x":1380,"y":0},{"x":1380,"y":-0.8},{"x":1540,"y":1.2},{"x":1540,"y":0.4},{"x":1540,"y":-0.4},{"x":1700,"y":0.7},{"x":1700,"y":-0.1},{"x":1700,"y":-0.9},{"x":1860,"y":0.9},{"x":1860,"y":0.1},{"x":1860,"y":-0.7},{"x":2020,"y":1.1},{"x":2020,"y":0.3},{"x":2020,"y":-0.5},{"x":2180,"y":0.7},{"x":2180,"y":-0.1},{"x":2340,"y":1.1},{"x":2340,"y":0.3},{"x":2500,"y":0.8}],
"p7":[{"x":30,"y":4.4},{"x":80,"y":4.25},{"x":90,"y":4.05},{"x":80,"y":3.85},{"x":120,"y":3.55},{"x":70,"y":3.5},{"x":120,"y":3.3},{"x":60,"y":3.2},{"x":100,"y":3},{"x":40,"y":2.8},{"x":70,"y":2.6},{"x":40,"y":2.4},{"x":80,"y":2.2},{"x":40,"y":2},{"x":80,"y":1.8},{"x":30,"y":1.6},{"x":70,"y":1.4},{"x":40,"y":1.2},{"x":100,"y":1},{"x":40,"y":0.8},{"x":100,"y":0.6},{"x":50,"y":0.4},{"x":90,"y":0.2},{"x":50,"y":0},{"x":100,"y":-0.2},{"x":40,"y":-0.4},{"x":90,"y":-0.6},{"x":40,"y":-0.8},{"x":100,"y":-1},{"x":40,"y":-1.2},{"x":100,"y":-1.4},{"x":40,"y":-1.6},{"x":90,"y":-1.8},{"x":30,"y":-2},{"x":80,"y":-2.15},{"x":20,"y":-2.3},{"x":70,"y":-2.25},{"x":250,"y":1.1},{"x":300,"y":0.9},{"x":250,"y":0.6},{"x":280,"y":0.3},{"x":260,"y":0},{"x":280,"y":-0.3},{"x":260,"y":-0.6},{"x":300,"y":-0.9},{"x":60,"y":3.4},{"x":60,"y":2.9},{"x":60,"y":2.5},{"x":60,"y":2.1},{"x":60,"y":1.7},{"x":60,"y":1.3},{"x":60,"y":0.9},{"x":60,"y":0.5},{"x":60,"y":0.1},{"x":60,"y":-0.3},{"x":60,"y":-0.7},{"x":60,"y":-1.1},{"x":60,"y":-1.5},{"x":60,"y":-1.9},{"x":180,"y":2.8},{"x":150,"y":2.3},{"x":180,"y":1.9},{"x":150,"y":1.5},{"x":180,"y":1.1},{"x":150,"y":0.7},{"x":180,"y":0.3},{"x":150,"y":-0.1},{"x":180,"y":-0.5},{"x":150,"y":-0.9},{"x":180,"y":-1.3},{"x":150,"y":-1.7},{"x":5335,"y":3.18},{"x":6670,"y":2.85},{"x":6000,"y":2.38},{"x":2000,"y":2.59},{"x":630,"y":2.53},{"x":1965,"y":2.29},{"x":2800,"y":2.3},{"x":3370,"y":2.22},{"x":670,"y":2.2},{"x":1330,"y":1.83},{"x":1965,"y":1.83},{"x":5370,"y":1.92},{"x":4700,"y":1.7},{"x":5300,"y":1.63},{"x":2630,"y":1.62},{"x":4040,"y":1.58},{"x":8040,"y":1.67},{"x":630,"y":1.55},{"x":5335,"y":1.42},{"x":8700,"y":1.41},{"x":9400,"y":1.34},{"x":1260,"y":1.22},{"x":4700,"y":1.21},{"x":3330,"y":1.12},{"x":11400,"y":1.07},{"x":6670,"y":1.03},{"x":4740,"y":1.02},{"x":8040,"y":0.98},{"x":2700,"y":0.95},{"x":5335,"y":0.92},{"x":2000,"y":0.88},{"x":630,"y":0.89},{"x":3370,"y":0.83},{"x":2000,"y":0.66},{"x":4670,"y":0.7},{"x":5970,"y":0.69},{"x":7400,"y":0.69},{"x":7400,"y":0.63},{"x":4070,"y":0.63},{"x":2700,"y":0.59},{"x":1300,"y":0.55},{"x":2000,"y":0.55},{"x":4040,"y":0.49},{"x":2100,"y":0.46},{"x":1300,"y":0.44},{"x":2630,"y":0.39},{"x":4000,"y":0.38},{"x":6140,"y":0.33},{"x":8700,"y":0.31},{"x":4670,"y":0.28},{"x":1300,"y":0.24},{"x":2000,"y":0.2},{"x":3330,"y":0.18},{"x":600,"y":0.32},{"x":5370,"y":0.1},{"x":1300,"y":0.1},{"x":4040,"y":0.04},{"x":700,"y":-0.02},{"x":2000,"y":-0.05},{"x":7370,"y":-0.06},{"x":4770,"y":-0.09},{"x":2740,"y":-0.05},{"x":3330,"y":-0.09},{"x":4040,"y":-0.1},{"x":1330,"y":-0.16},{"x":2100,"y":-0.13},{"x":2700,"y":-0.19},{"x":4770,"y":-0.24},{"x":3400,"y":-0.27},{"x":4040,"y":-0.27},{"x":7500,"y":-0.32},{"x":6040,"y":-0.35},{"x":1300,"y":-0.39},{"x":2000,"y":-0.41},{"x":2670,"y":-0.37},{"x":4040,"y":-0.41},{"x":5335,"y":-0.44},{"x":10700,"y":-0.44},{"x":6070,"y":-0.47},{"x":5860,"y":-0.53},{"x":2000,"y":-0.58},{"x":1300,"y":-0.58},{"x":6700,"y":-0.53},{"x":8040,"y":-0.53},{"x":2700,"y":-0.58},{"x":3330,"y":-0.61},{"x":4670,"y":-0.6},{"x":5510,"y":-0.58},{"x":6840,"y":-0.6},{"x":4040,"y":-0.65},{"x":6740,"y":-0.75},{"x":7370,"y":-0.74},{"x":3330,"y":-0.78},{"x":2030,"y":-0.81},{"x":4700,"y":-0.87},{"x":8040,"y":-0.88},{"x":2700,"y":-0.87},{"x":2000,"y":-0.92},{"x":600,"y":-0.95},{"x":3330,"y":-0.95},{"x":6000,"y":-1},{"x":2000,"y":-1.04},{"x":3970,"y":-1.09},{"x":1330,"y":-1.12},{"x":9970,"y":-1.08},{"x":12070,"y":-1.15},{"x":1650,"y":-1.22},{"x":1300,"y":-1.29},{"x":1300,"y":-1.38},{"x":3160,"y":-1.83},{"x":670,"y":-2.11}],
"p8":[{"x":2000,"y":3.2},{"x":2000,"y":2.9},{"x":2000,"y":2.6},{"x":2000,"y":2.3},{"x":2000,"y":2},{"x":2000,"y":1.7},{"x":2000,"y":1.4},{"x":2000,"y":1.1},{"x":2000,"y":0.8},{"x":2000,"y":0.5},{"x":2000,"y":0.2},{"x":2000,"y":-0.1},{"x":2000,"y":-0.4},{"x":2000,"y":-0.7},{"x":2000,"y":-1},{"x":2000,"y":-1.3},{"x":2000,"y":-1.6},{"x":2000,"y":-1.9},{"x":2000,"y":-2.2},{"x":10000,"y":3.1},{"x":10000,"y":2.8},{"x":10000,"y":2.5},{"x":10000,"y":2.2},{"x":10000,"y":1.9},{"x":10000,"y":1.6},{"x":10000,"y":1.3},{"x":10000,"y":1},{"x":10000,"y":0.7},{"x":10000,"y":0.4},{"x":10000,"y":0.1},{"x":10000,"y":-0.2},{"x":10000,"y":-0.5},{"x":10000,"y":-0.8},{"x":10000,"y":-1.1},{"x":10000,"y":-1.4},{"x":10000,"y":-1.7},{"x":10000,"y":-2},{"x":10000,"y":-2.3},{"x":18000,"y":2.9},{"x":18000,"y":2.6},{"x":18000,"y":2.3},{"x":18000,"y":2},{"x":18000,"y":1.7},{"x":18000,"y":1.4},{"x":18000,"y":1.1},{"x":18000,"y":0.8},{"x":18000,"y":0.5},{"x":18000,"y":0.2},{"x":18000,"y":-0.1},{"x":18000,"y":-0.4},{"x":18000,"y":-0.7},{"x":18000,"y":-1},{"x":18000,"y":-1.3},{"x":18000,"y":-1.6},{"x":18000,"y":-1.9},{"x":18000,"y":-2.2},{"x":26000,"y":2.5},{"x":26000,"y":2.2},{"x":26000,"y":1.9},{"x":26000,"y":1.6},{"x":26000,"y":1.3},{"x":26000,"y":1},{"x":26000,"y":0.7},{"x":26000,"y":0.4},{"x":26000,"y":0.1},{"x":26000,"y":-0.2},{"x":26000,"y":-0.5},{"x":26000,"y":-0.8},{"x":26000,"y":-1.1},{"x":26000,"y":-1.4},{"x":26000,"y":-1.7},{"x":34000,"y":2.3},{"x":34000,"y":2},{"x":34000,"y":1.7},{"x":34000,"y":1.4},{"x":34000,"y":1.1},{"x":34000,"y":0.8},{"x":34000,"y":0.5},{"x":34000,"y":0.2},{"x":34000,"y":-0.1},{"x":34000,"y":-0.4},{"x":34000,"y":-0.7},{"x":34000,"y":-1},{"x":34000,"y":-1.3},{"x":42000,"y":2},{"x":42000,"y":1.7},{"x":42000,"y":1.4},{"x":42000,"y":1.1},{"x":42000,"y":0.8},{"x":42000,"y":0.5},{"x":42000,"y":0.2},{"x":42000,"y":-0.1},{"x":42000,"y":-0.4},{"x":42000,"y":-0.7},{"x":42000,"y":-1},{"x":42000,"y":-1.4},{"x":50000,"y":1.6},{"x":50000,"y":1.3},{"x":50000,"y":1},{"x":50000,"y":0.7},{"x":50000,"y":0.4},{"x":50000,"y":0.1},{"x":50000,"y":-0.2},{"x":50000,"y":-0.5},{"x":50000,"y":-0.8},{"x":50000,"y":-1.1},{"x":58000,"y":1.4},{"x":58000,"y":0.9},{"x":58000,"y":0.5},{"x":58000,"y":0},{"x":58000,"y":-0.5},{"x":66000,"y":1},{"x":66000,"y":0.5},{"x":66000,"y":-0.2},{"x":66000,"y":-0.9},{"x":72000,"y":0.2},{"x":78000,"y":1},{"x":78000,"y":0.6},{"x":78000,"y":-0.2},{"x":78000,"y":-0.9},{"x":84000,"y":0.9},{"x":84000,"y":0.3},{"x":84000,"y":-0.3},{"x":86000,"y":-1},{"x":90000,"y":0.7},{"x":92000,"y":-0.1},{"x":95000,"y":-0.6},{"x":98000,"y":1.3},{"x":98000,"y":0.3},{"x":100000,"y":-0.9},{"x":102000,"y":0.9},{"x":105000,"y":-0.4},{"x":106000,"y":0.4},{"x":110000,"y":1.2},{"x":112000,"y":0.1},{"x":112000,"y":-0.9},{"x":118000,"y":0.7},{"x":120000,"y":1},{"x":120000,"y":-0.2},{"x":124000,"y":0.3},{"x":125000,"y":-0.5},{"x":135000,"y":0.1},{"x":7300,"y":5.65},{"x":4000,"y":4.77},{"x":7300,"y":4.42},{"x":24500,"y":4.14},{"x":18500,"y":4.15},{"x":13200,"y":4.1},{"x":6600,"y":4.07},{"x":39000,"y":3.85},{"x":3300,"y":3.87},{"x":30500,"y":3.63},{"x":15200,"y":3.59},{"x":16500,"y":3.47},{"x":80100,"y":3.41},{"x":119800,"y":3.23},{"x":27800,"y":3.23},{"x":68200,"y":3.12},{"x":70800,"y":2.78},{"x":33100,"y":2.97},{"x":43000,"y":2.92},{"x":110600,"y":2.54},{"x":84700,"y":2.44},{"x":76800,"y":2.3},{"x":84700,"y":2.16},{"x":122500,"y":2.15},{"x":104600,"y":2.06},{"x":56300,"y":1.97},{"x":89400,"y":1.84},{"x":109200,"y":1.84},{"x":120500,"y":1.73},{"x":97300,"y":1.63},{"x":254900,"y":1.63},{"x":122500,"y":1.53},{"x":162200,"y":1.36},{"x":222400,"y":1.34},{"x":246300,"y":1.36},{"x":149000,"y":1.24},{"x":182000,"y":1.25},{"x":284700,"y":1.29},{"x":346900,"y":1.22},{"x":264800,"y":1.12},{"x":239000,"y":1.01},{"x":319700,"y":0.91},{"x":172800,"y":0.94},{"x":135700,"y":0.98},{"x":158900,"y":0.9},{"x":196600,"y":0.78},{"x":278000,"y":0.75},{"x":380000,"y":0.68},{"x":203200,"y":0.54},{"x":257500,"y":0.59},{"x":147000,"y":0.5},{"x":342900,"y":0.4},{"x":157600,"y":0.26},{"x":176800,"y":0.13},{"x":180100,"y":-0.13},{"x":288600,"y":-0.13},{"x":164200,"y":-0.29},{"x":395200,"y":-0.33},{"x":142300,"y":-0.37},{"x":149000,"y":-0.61},{"x":163500,"y":-0.73},{"x":135700,"y":-0.77},{"x":142300,"y":-0.98},{"x":140300,"y":-1.2},{"x":110600,"y":-1.2},{"x":76100,"y":-1.2},{"x":0,"y":-2.71},{"x":0,"y":-3.66},{"x":23200,"y":-2.46},{"x":51600,"y":-1.72},{"x":34400,"y":-1.68},{"x":6000,"y":3},{"x":6000,"y":2.4},{"x":6000,"y":1.8},{"x":6000,"y":1.2},{"x":6000,"y":0.6},{"x":6000,"y":0},{"x":6000,"y":-0.6},{"x":6000,"y":-1.2},{"x":6000,"y":-1.8},{"x":14000,"y":2.7},{"x":14000,"y":2.1},{"x":14000,"y":1.5},{"x":14000,"y":0.9},{"x":14000,"y":0.3},{"x":14000,"y":-0.3},{"x":14000,"y":-0.9},{"x":14000,"y":-1.5},{"x":14000,"y":-2.1},{"x":22000,"y":2.4},{"x":22000,"y":1.8},{"x":22000,"y":1.2},{"x":22000,"y":0.6},{"x":22000,"y":0},{"x":22000,"y":-0.6},{"x":22000,"y":-1.2},{"x":22000,"y":-1.8},{"x":30000,"y":2.1},{"x":30000,"y":1.5},{"x":30000,"y":0.9},{"x":30000,"y":0.3},{"x":30000,"y":-0.3},{"x":30000,"y":-0.9},{"x":30000,"y":-1.5},{"x":38000,"y":1.8},{"x":38000,"y":1.2},{"x":38000,"y":0.6},{"x":38000,"y":0},{"x":38000,"y":-0.6},{"x":38000,"y":-1.2},{"x":46000,"y":1.5},{"x":46000,"y":0.9},{"x":46000,"y":0.3},{"x":46000,"y":-0.3},{"x":46000,"y":-0.9},{"x":54000,"y":1.1},{"x":54000,"y":0.7},{"x":54000,"y":0.2},{"x":54000,"y":-0.3},{"x":54000,"y":-0.8},{"x":62000,"y":0.8},{"x":62000,"y":0.2},{"x":62000,"y":-0.6},{"x":72000,"y":0.7},{"x":72000,"y":-0.5},{"x":6000,"y":2.7},{"x":6000,"y":2.1},{"x":6000,"y":1.5},{"x":6000,"y":0.9},{"x":6000,"y":0.3},{"x":6000,"y":-0.3},{"x":6000,"y":-0.9},{"x":6000,"y":-1.5},{"x":14000,"y":2.4},{"x":14000,"y":1.8},{"x":14000,"y":1.2},{"x":14000,"y":0.6},{"x":14000,"y":0},{"x":14000,"y":-0.6},{"x":14000,"y":-1.2},{"x":14000,"y":-1.8},{"x":22000,"y":2.1},{"x":22000,"y":1.5},{"x":22000,"y":0.9},{"x":22000,"y":0.3},{"x":22000,"y":-0.3},{"x":22000,"y":-0.9},{"x":22000,"y":-1.5},{"x":30000,"y":1.8},{"x":30000,"y":1.2},{"x":30000,"y":0.6},{"x":30000,"y":0},{"x":30000,"y":-0.6},{"x":30000,"y":-1.2},{"x":38000,"y":1.5},{"x":38000,"y":0.9},{"x":38000,"y":0.3},{"x":38000,"y":-0.3},{"x":38000,"y":-0.9},{"x":46000,"y":1.2},{"x":46000,"y":0.6},{"x":46000,"y":0},{"x":46000,"y":-0.6}]
},
"vconcat":[
{"hconcat":[
{"width":4,"height":1196,"data":{"values":[{"f":1}]},"mark":{"type":"rect","color":"#000"},"encoding":{},"view":{"fill":"#000","stroke":null}},
{"width":2944,"height":3,"data":{"values":[{"f":1}]},"mark":{"type":"rect","color":"#000"},"encoding":{},"view":{"fill":"#000","stroke":null}},
{"width":3,"height":1196,"data":{"values":[{"f":1}]},"mark":{"type":"rect","color":"#000"},"encoding":{},"view":{"fill":"#000","stroke":null}}
],"bounds":"flush","spacing":0},
{"width":1,"height":43,"data":{"values":[{"f":1}]},"mark":{"type":"rect","opacity":0},"encoding":{}},
{"hconcat":[
{"width":193,"height":1,"data":{"values":[{"f":1}]},"mark":{"type":"rect","opacity":0},"encoding":{}},
{"width":534,"height":436,"view":{"stroke":"#cfcfcf","strokeWidth":2},"encoding":{
"x":{"field":"x","type":"quantitative","scale":{"domain":[-283,6285],"nice":false,"zero":false},"axis":{"title":["Population Predicted","Plasma Concentrations, nmol/L"],"titleFontSize":33.5,"titleX":239,"titleY":66,"labelFontSize":31,"labelPadding":6,"values":[0,1000,2000,3000,4000,5000,6000],"labelExpr":"datum.value%2000==0?datum.label:''","gridWidth":{"condition":{"test":"datum.value%2000==0","value":2},"value":1.5},"tickOpacity":{"condition":{"test":"datum.value%2000==0","value":1},"value":0},"format":"d"}},
"y":{"field":"y","type":"quantitative","scale":{"domain":[-410,8000],"nice":false,"zero":false},"axis":{"title":["Observed Plasma","Concentrations, nmol/L"],"titleFontSize":33,"titleX":-153,"titleY":216,"labelFontSize":31,"labelPadding":8,"values":[0,1000,2000,3000,4000,5000,6000,7000,8000],"labelExpr":"datum.value%2000==0?datum.label:''","gridWidth":{"condition":{"test":"datum.value%2000==0","value":3},"value":1.5},"tickOpacity":{"condition":{"test":"datum.value%2000==0","value":1},"value":0},"format":"d"}}},
"layer":[{"data":{"values":[{"x":-500,"y":-500},{"x":7000,"y":7000}]},"mark":{"type":"line","color":"#111","strokeWidth":2,"clip":true}},{"data":{"name":"p1"},"mark":{"type":"circle","size":180,"color":"#000","opacity":1}},{"data":{"values":[{"x":0,"y":0},{"x":1000,"y":1130},{"x":2000,"y":2340},{"x":3000,"y":3500},{"x":4000,"y":4700},{"x":5000,"y":5800},{"x":6000,"y":6950}]},"mark":{"type":"line","color":"#f00","strokeWidth":5,"strokeDash":[24,17],"clip":true}}]},
{"width":192,"height":1,"data":{"values":[{"f":1}]},"mark":{"type":"rect","opacity":0},"encoding":{}},
{"width":534,"height":436,"view":{"stroke":"#cfcfcf","strokeWidth":2},"encoding":{
"x":{"field":"x","type":"quantitative","scale":{"domain":[-337,7481],"nice":false,"zero":false},"axis":{"title":["Individual Predicted","Plasma Concentrations, nmol/L"],"titleFontSize":33.5,"titleX":232,"titleY":68,"labelFontSize":31,"labelPadding":6,"values":[0,1000,2000,3000,4000,5000,6000,7000],"labelExpr":"datum.value%2000==0?datum.label:''","gridWidth":{"condition":{"test":"datum.value%2000==0","value":2},"value":1.5},"tickOpacity":{"condition":{"test":"datum.value%2000==0","value":1},"value":0},"format":"d"}},
"y":{"field":"y","type":"quantitative","scale":{"domain":[-420,8180],"nice":false,"zero":false},"axis":{"title":["Observed Plasma","Concentrations, nmol/L"],"titleFontSize":33,"titleX":-155,"titleY":216,"labelFontSize":31,"labelPadding":8,"values":[0,1000,2000,3000,4000,5000,6000,7000,8000],"labelExpr":"datum.value%2000==0?datum.label:''","gridWidth":{"condition":{"test":"datum.value%2000==0","value":3},"value":1.5},"tickOpacity":{"condition":{"test":"datum.value%2000==0","value":1},"value":0},"format":"d"}}},
"layer":[{"data":{"values":[{"x":-500,"y":-500},{"x":8000,"y":8000}]},"mark":{"type":"line","color":"#111","strokeWidth":2,"clip":true}},{"data":{"name":"p2"},"mark":{"type":"circle","size":180,"color":"#000","opacity":1}},{"data":{"values":[{"x":0,"y":0},{"x":2000,"y":2200},{"x":4000,"y":4400},{"x":6000,"y":6600},{"x":7130,"y":7800}]},"mark":{"type":"line","color":"#f00","strokeWidth":5,"strokeDash":[24,17],"clip":true}}]},
{"width":181,"height":1,"data":{"values":[{"f":1}]},"mark":{"type":"rect","opacity":0},"encoding":{}},
{"width":581,"height":487,"view":{"stroke":"#cfcfcf","strokeWidth":2},"encoding":{
"x":{"field":"x","type":"quantitative","scale":{"domain":[-11200,239000],"nice":false,"zero":false},"axis":{"title":"Population Predicted Plasma Hepcidin, ng/L","titleFontSize":33.5,"titleX":275,"titleY":60,"labelFontSize":25,"labelPadding":6,"values":[0,25000,50000,75000,100000,125000,150000,175000,200000,225000],"labelExpr":"datum.value%50000==0?datum.value+'':''","gridWidth":{"condition":{"test":"datum.value%50000==0","value":2},"value":1.5},"tickOpacity":{"condition":{"test":"datum.value%50000==0","value":1},"value":0}}},
"y":{"field":"y","type":"quantitative","scale":{"domain":[-23600,500000],"nice":false,"zero":false},"axis":{"title":"Observed Plasma Hepcidin, ng/L","titleFontSize":33,"titleX":-112,"titleY":256,"labelFontSize":25,"labelPadding":6,"values":[0,50000,100000,150000,200000,250000,300000,350000,400000,450000,500000],"labelExpr":"datum.value%100000==0?(datum.value==0?'0e+00':(datum.value/100000)+'e+05'):''","gridWidth":{"condition":{"test":"datum.value%100000==0","value":3},"value":1.5},"tickOpacity":{"condition":{"test":"datum.value%100000==0","value":1},"value":0}}}},
"layer":[{"data":{"values":[{"x":-30000,"y":-30000},{"x":260000,"y":260000}]},"mark":{"type":"line","color":"#111","strokeWidth":2,"clip":true}},{"data":{"name":"p3"},"mark":{"type":"circle","size":180,"color":"#000","opacity":1}},{"data":{"values":[{"x":0,"y":0},{"x":50000,"y":68000},{"x":100000,"y":128000},{"x":150000,"y":183000},{"x":215000,"y":265000}]},"mark":{"type":"line","color":"#f00","strokeWidth":5,"strokeDash":[24,17],"clip":true}}]},
{"width":146,"height":1,"data":{"values":[{"f":1}]},"mark":{"type":"rect","opacity":0},"encoding":{}},
{"width":581,"height":487,"view":{"stroke":"#cfcfcf","strokeWidth":2},"encoding":{
"x":{"field":"x","type":"quantitative","scale":{"domain":[-18800,418000],"nice":false,"zero":false},"axis":{"title":"Individual Predicted Plasma Hepcidin, ng/L","titleFontSize":33.5,"titleX":259,"titleY":60,"labelFontSize":25,"labelPadding":6,"values":[0,50000,100000,150000,200000,250000,300000,350000,400000],"labelExpr":"datum.value%100000==0?(datum.value==0?'0e+00':(datum.value/100000)+'e+05'):''","gridWidth":{"condition":{"test":"datum.value%100000==0","value":2},"value":1.5},"tickOpacity":{"condition":{"test":"datum.value%100000==0","value":1},"value":0}}},
"y":{"field":"y","type":"quantitative","scale":{"domain":[-23600,500000],"nice":false,"zero":false},"axis":{"title":"Observed Plasma Hepcidin, ng/L","titleFontSize":33,"titleX":-116,"titleY":256,"labelFontSize":25,"labelPadding":6,"values":[0,50000,100000,150000,200000,250000,300000,350000,400000,450000,500000],"labelExpr":"datum.value%100000==0?(datum.value==0?'0e+00':(datum.value/100000)+'e+05'):''","gridWidth":{"condition":{"test":"datum.value%100000==0","value":3},"value":1.5},"tickOpacity":{"condition":{"test":"datum.value%100000==0","value":1},"value":0}}}},
"layer":[{"data":{"values":[{"x":-30000,"y":-30000},{"x":450000,"y":450000}]},"mark":{"type":"line","color":"#111","strokeWidth":2,"clip":true}},{"data":{"name":"p4"},"mark":{"type":"circle","size":180,"color":"#000","opacity":1}},{"data":{"values":[{"x":0,"y":0},{"x":140000,"y":152000},{"x":248000,"y":268000},{"x":387000,"y":418000}]},"mark":{"type":"line","color":"#f00","strokeWidth":5,"strokeDash":[24,17],"clip":true}}]}
],"bounds":"flush","spacing":0},
{"width":1,"height":586,"data":{"values":[{"f":1}]},"mark":{"type":"rect","opacity":0},"encoding":{}},
{"hconcat":[
{"width":107,"height":1,"data":{"values":[{"f":1}]},"mark":{"type":"rect","opacity":0},"encoding":{}},
{"width":620,"height":478,"view":{"stroke":"#cfcfcf","strokeWidth":2},"encoding":{
"x":{"field":"x","type":"quantitative","scale":{"domain":[-8.3,176],"nice":false,"zero":false},"axis":{"title":"Time After Dose, hr","titleFontSize":33.5,"titleX":325,"titleY":62,"labelFontSize":31,"labelPadding":6,"values":[0,25,50,75,100,125,150,175],"labelExpr":"datum.value%50==0?datum.label:''","gridWidth":{"condition":{"test":"datum.value%50==0","value":2},"value":1.5},"tickOpacity":{"condition":{"test":"datum.value%50==0","value":1},"value":0}}},
"y":{"field":"y","type":"quantitative","scale":{"domain":[-6.46,7.66],"nice":false,"zero":false},"axis":{"title":"Weighted Residuals, IWRES","titleFontSize":33,"titleX":-65,"titleY":239,"labelFontSize":31,"labelPadding":4,"values":[-6,-4,-2,0,2,4,6],"labelExpr":"datum.value%4==0?datum.label:''","gridWidth":{"condition":{"test":"datum.value%4==0","value":3},"value":1.5},"tickOpacity":{"condition":{"test":"datum.value%4==0","value":1},"value":0}}}},
"layer":[{"data":{"values":[{"x":-20,"y":0},{"x":200,"y":0}]},"mark":{"type":"line","color":"#222","strokeWidth":3,"clip":true}},{"data":{"name":"p5"},"mark":{"type":"circle","size":180,"color":"#000","opacity":1}},{"data":{"values":[{"x":0,"y":-0.1},{"x":4,"y":0.17},{"x":9,"y":0.2},{"x":21,"y":0},{"x":35,"y":-0.17},{"x":55,"y":-0.33},{"x":72,"y":-0.35},{"x":98,"y":-0.22},{"x":120,"y":-0.02},{"x":144,"y":0.25},{"x":167,"y":0.58}]},"mark":{"type":"line","color":"#f00","strokeWidth":5,"strokeDash":[24,17],"clip":true}}]},
{"width":106,"height":1,"data":{"values":[{"f":1}]},"mark":{"type":"rect","opacity":0},"encoding":{}},
{"width":620,"height":435,"view":{"stroke":"#cfcfcf","strokeWidth":2},"encoding":{
"x":{"field":"x","type":"quantitative","scale":{"domain":[-354,7494],"nice":false,"zero":false},"axis":{"title":["Predicted Plasma","Concentrations, nmol/L"],"titleFontSize":33.5,"titleX":298,"titleY":65,"labelFontSize":31,"labelPadding":6,"values":[0,1000,2000,3000,4000,5000,6000,7000],"labelExpr":"datum.value%2000==0?datum.label:''","gridWidth":{"condition":{"test":"datum.value%2000==0","value":2},"value":1.5},"tickOpacity":{"condition":{"test":"datum.value%2000==0","value":1},"value":0},"format":"d"}},
"y":{"field":"y","type":"quantitative","scale":{"domain":[-6.45,7.66],"nice":false,"zero":false},"axis":{"title":"Weighted Residuals","titleFontSize":33,"titleX":-62,"titleY":230,"labelFontSize":31,"labelPadding":4,"values":[-6,-4,-2,0,2,4,6],"labelExpr":"datum.value%4==0?datum.label:''","gridWidth":{"condition":{"test":"datum.value%4==0","value":3},"value":1.5},"tickOpacity":{"condition":{"test":"datum.value%4==0","value":1},"value":0}}}},
"layer":[{"data":{"values":[{"x":-500,"y":0},{"x":8000,"y":0}]},"mark":{"type":"line","color":"#222","strokeWidth":3,"clip":true}},{"data":{"name":"p6"},"mark":{"type":"circle","size":180,"color":"#000","opacity":1}},{"data":{"values":[{"x":0,"y":-0.05},{"x":200,"y":-0.12},{"x":800,"y":-0.1},{"x":1400,"y":0},{"x":2000,"y":0.2},{"x":2800,"y":0.5},{"x":3500,"y":0.65},{"x":4300,"y":0.72},{"x":5000,"y":0.66},{"x":5700,"y":0.52},{"x":6500,"y":0.3},{"x":7120,"y":0.05}]},"mark":{"type":"line","color":"#f00","strokeWidth":5,"strokeDash":[24,17],"clip":true}}]},
{"width":131,"height":1,"data":{"values":[{"f":1}]},"mark":{"type":"rect","opacity":0},"encoding":{}},
{"width":631,"height":487,"view":{"stroke":"#cfcfcf","strokeWidth":2},"encoding":{
"x":{"field":"x","type":"quantitative","scale":{"domain":[-1066,22130],"nice":false,"zero":false},"axis":{"title":"Time After Dose, hr","titleFontSize":33.5,"titleX":304,"titleY":58,"labelFontSize":25,"labelPadding":6,"values":[0,2500,5000,7500,10000,12500,15000,17500,20000],"labelExpr":"datum.value%5000==0?datum.value+'':''","gridWidth":{"condition":{"test":"datum.value%5000==0","value":2},"value":1.5},"tickOpacity":{"condition":{"test":"datum.value%5000==0","value":1},"value":0}}},
"y":{"field":"y","type":"quantitative","scale":{"domain":[-2.61,4.7],"nice":false,"zero":false},"axis":{"title":"Weighted Residuals, IWRES","titleFontSize":33,"titleX":-60,"titleY":243,"labelFontSize":25,"labelPadding":4,"values":[-2,-1,0,1,2,3,4],"labelExpr":"datum.value%2==0?datum.label:''","gridWidth":{"condition":{"test":"datum.value%2==0","value":3},"value":1.5},"tickOpacity":{"condition":{"test":"datum.value%2==0","value":1},"value":0}}}},
"layer":[{"data":{"values":[{"x":-2000,"y":0},{"x":24000,"y":0}]},"mark":{"type":"line","color":"#222","strokeWidth":3,"clip":true}},{"data":{"name":"p7"},"mark":{"type":"circle","size":180,"color":"#000","opacity":1}},{"data":{"values":[{"x":0,"y":0.05},{"x":11480,"y":0.21}]},"mark":{"type":"line","color":"#f00","strokeWidth":5,"strokeDash":[24,17],"clip":true}}]},
{"width":96,"height":1,"data":{"values":[{"f":1}]},"mark":{"type":"rect","opacity":0},"encoding":{}},
{"width":631,"height":487,"view":{"stroke":"#cfcfcf","strokeWidth":2},"encoding":{
"x":{"field":"x","type":"quantitative","scale":{"domain":[-19400,417900],"nice":false,"zero":false},"axis":{"title":"Individual Predicted Plasma Hepcidin, ng/L","titleFontSize":33.5,"titleX":309,"titleY":58,"labelFontSize":25,"labelPadding":6,"values":[0,50000,100000,150000,200000,250000,300000,350000,400000],"labelExpr":"datum.value%100000==0?(datum.value==0?'0e+00':(datum.value/100000)+'e+05'):''","gridWidth":{"condition":{"test":"datum.value%100000==0","value":2},"value":1.5},"tickOpacity":{"condition":{"test":"datum.value%100000==0","value":1},"value":0}}},
"y":{"field":"y","type":"quantitative","scale":{"domain":[-4.1,6.09],"nice":false,"zero":false},"axis":{"title":"Weighted Residuals","titleFontSize":33,"titleX":-61,"titleY":250,"labelFontSize":25,"labelPadding":4,"values":[-4,-3,-2,-1,0,1,2,3,4,5,6],"labelExpr":"datum.value%2==0?datum.label:''","gridWidth":{"condition":{"test":"datum.value%2==0","value":3},"value":1.5},"tickOpacity":{"condition":{"test":"datum.value%2==0","value":1},"value":0}}}},
"layer":[{"data":{"values":[{"x":-30000,"y":0},{"x":450000,"y":0}]},"mark":{"type":"line","color":"#222","strokeWidth":3,"clip":true}},{"data":{"name":"p8"},"mark":{"type":"circle","size":180,"color":"#000","opacity":1}},{"data":{"values":[{"x":0,"y":-0.29},{"x":23000,"y":0.14},{"x":69500,"y":0.54},{"x":122000,"y":0.77},{"x":175000,"y":0.85},{"x":228000,"y":0.85},{"x":281000,"y":0.79},{"x":334000,"y":0.7},{"x":387000,"y":0.6}]},"mark":{"type":"line","color":"#f00","strokeWidth":5,"strokeDash":[24,17],"clip":true}}]}
],"bounds":"flush","spacing":0}
]}
